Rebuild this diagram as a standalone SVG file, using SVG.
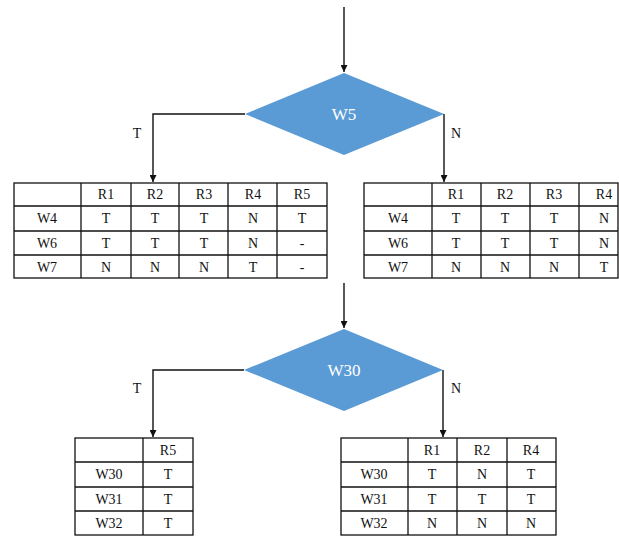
<svg xmlns="http://www.w3.org/2000/svg" width="619" height="539" viewBox="0 0 619 539">
<defs>
<style>
.t{font-family:"Liberation Serif","Times New Roman",serif;font-size:14px;fill:#111;text-anchor:middle}
.d{font-family:"Liberation Serif","Times New Roman",serif;font-size:17px;fill:#fff;text-anchor:middle}
.lb{font-family:"Liberation Serif","Times New Roman",serif;font-size:14px;fill:#111;text-anchor:middle}
.g{stroke:#111;stroke-width:1.3;fill:none}
.c{stroke:#111;stroke-width:1.4;fill:none;marker-end:url(#ah)}
.dm{fill:#5B9BD5;stroke:none}
</style>
<marker id="ah" viewBox="0 0 10 10" refX="10" refY="5" markerWidth="7" markerHeight="7" markerUnits="userSpaceOnUse" orient="auto">
<path d="M0,0 L10,5 L0,10 z" fill="#111"/>
</marker>
</defs>
<rect width="619" height="539" fill="#fff"/>

<g id="connectors">
<path class="c" d="M344,7 V72"/>
<path class="c" d="M245,114 H153 V182"/>
<path class="c" d="M444,114 V182"/>
<path class="c" d="M344,283 V328"/>
<path class="c" d="M244,370 H153 V437"/>
<path class="c" d="M443,370 V437"/>
<text class="lb" x="137" y="138">T</text>
<text class="lb" x="456" y="138">N</text>
<text class="lb" x="137" y="393">T</text>
<text class="lb" x="456" y="393">N</text>
</g>

<g id="w5">
<polygon class="dm" points="344,73 444,114 344,155 245,114"/>
<text class="d" x="344" y="120">W5</text>
</g>

<g id="w30">
<polygon class="dm" points="344,329 443,370 344,411 244,370"/>
<text class="d" x="344" y="376">W30</text>
</g>

<g id="table1">
<rect class="g" x="14" y="183" width="313" height="95"/>
<path class="g" d="M81,183V278M131,183V278M179,183V278M228,183V278M277,183V278M14,206H327M14,231H327M14,255H327"/>
<text class="t" x="106" y="199">R1</text><text class="t" x="155" y="199">R2</text><text class="t" x="204" y="199">R3</text><text class="t" x="253" y="199">R4</text><text class="t" x="302" y="199">R5</text>
<text class="t" x="47" y="223">W4</text><text class="t" x="106" y="223">T</text><text class="t" x="155" y="223">T</text><text class="t" x="204" y="223">T</text><text class="t" x="253" y="223">N</text><text class="t" x="302" y="223">T</text>
<text class="t" x="47" y="248">W6</text><text class="t" x="106" y="248">T</text><text class="t" x="155" y="248">T</text><text class="t" x="204" y="248">T</text><text class="t" x="253" y="248">N</text><text class="t" x="302" y="248">-</text>
<text class="t" x="47" y="272">W7</text><text class="t" x="106" y="272">N</text><text class="t" x="155" y="272">N</text><text class="t" x="204" y="272">N</text><text class="t" x="253" y="272">T</text><text class="t" x="302" y="272">-</text>
</g>

<g id="table2">
<rect class="g" x="364" y="183" width="254" height="95"/>
<path class="g" d="M432,183V278M481,183V278M530,183V278M579,183V278M364,206H618M364,231H618M364,255H618"/>
<text class="t" x="456" y="199">R1</text><text class="t" x="505" y="199">R2</text><text class="t" x="554" y="199">R3</text><text class="t" x="604" y="199">R4</text>
<text class="t" x="398" y="223">W4</text><text class="t" x="456" y="223">T</text><text class="t" x="505" y="223">T</text><text class="t" x="554" y="223">T</text><text class="t" x="604" y="223">N</text>
<text class="t" x="398" y="248">W6</text><text class="t" x="456" y="248">T</text><text class="t" x="505" y="248">T</text><text class="t" x="554" y="248">T</text><text class="t" x="604" y="248">N</text>
<text class="t" x="398" y="272">W7</text><text class="t" x="456" y="272">N</text><text class="t" x="505" y="272">N</text><text class="t" x="554" y="272">N</text><text class="t" x="604" y="272">T</text>
</g>

<g id="table3">
<rect class="g" x="75" y="438" width="118" height="97"/>
<path class="g" d="M143,438V535M75,462H193M75,487H193M75,511H193"/>
<text class="t" x="168" y="455">R5</text>
<text class="t" x="109" y="479">W30</text><text class="t" x="168" y="479">T</text>
<text class="t" x="109" y="504">W31</text><text class="t" x="168" y="504">T</text>
<text class="t" x="109" y="528">W32</text><text class="t" x="168" y="528">T</text>
</g>

<g id="table4">
<rect class="g" x="341" y="438" width="215" height="97"/>
<path class="g" d="M408,438V535M457,438V535M507,438V535M341,462H556M341,487H556M341,511H556"/>
<text class="t" x="432" y="455">R1</text><text class="t" x="482" y="455">R2</text><text class="t" x="531" y="455">R4</text>
<text class="t" x="374" y="479">W30</text><text class="t" x="432" y="479">T</text><text class="t" x="482" y="479">N</text><text class="t" x="531" y="479">T</text>
<text class="t" x="374" y="504">W31</text><text class="t" x="432" y="504">T</text><text class="t" x="482" y="504">T</text><text class="t" x="531" y="504">T</text>
<text class="t" x="374" y="528">W32</text><text class="t" x="432" y="528">N</text><text class="t" x="482" y="528">N</text><text class="t" x="531" y="528">N</text>
</g>
</svg>
